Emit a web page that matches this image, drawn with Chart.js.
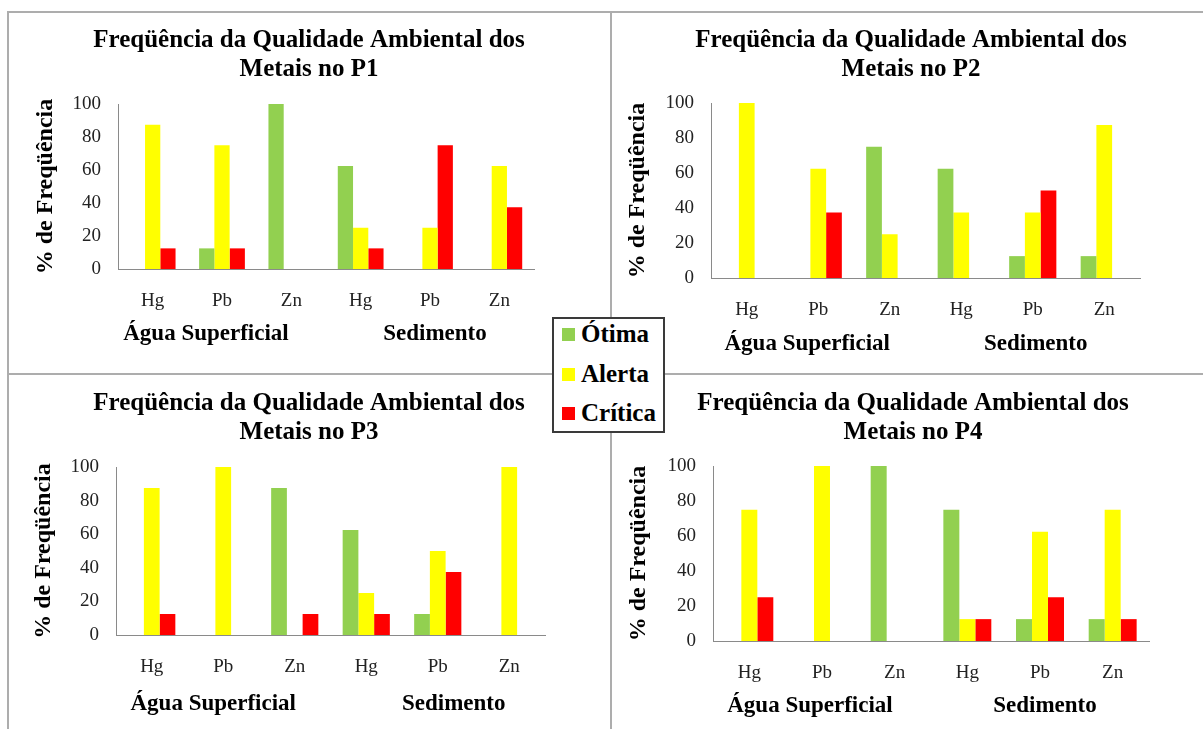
<!DOCTYPE html>
<html>
<head>
<meta charset="utf-8">
<script src="https://cdn.jsdelivr.net/npm/chart.js@4/dist/chart.umd.min.js"></script>
<style>
  body { margin: 0; width: 1203px; height: 729px; overflow: hidden; background: #fff; position: relative; }
  canvas { position: absolute; }
  .line { position: absolute; background: #adadad; }
  #legend { position: absolute; left: 552px; top: 317px; width: 109px; height: 112px; border: 2px solid #3a3a3a; background: #fff;
    font: bold 25px "Liberation Serif", serif; color: #000; }
  #legend div { position: absolute; left: 8px; height: 30px; line-height: 30px; white-space: nowrap; }
  #legend span { display: inline-block; width: 13px; height: 13px; margin-right: 6px; vertical-align: 1px; }
</style>
</head>
<body>
<div class="line" style="left:7px;top:11px;width:1200px;height:2px"></div>
<div class="line" style="left:7px;top:11px;width:2px;height:720px"></div>
<div class="line" style="left:610px;top:11px;width:2px;height:720px"></div>
<div class="line" style="left:7px;top:373px;width:1200px;height:2px"></div>
<canvas id="p1" width="602" height="362" style="left:8px;top:12px"></canvas>
<canvas id="p2" width="600" height="362" style="left:611px;top:12px"></canvas>
<canvas id="p3" width="602" height="355" style="left:8px;top:374px"></canvas>
<canvas id="p4" width="604" height="355" style="left:611px;top:374px"></canvas>
<div id="legend"></div>
<script>
// dados (% de frequência, 8 amostras)
const categories = ['Hg', 'Pb', 'Zn', 'Hg', 'Pb', 'Zn'];
const groups = ['Água Superficial', 'Sedimento'];
const seriesNames = ['Ótima', 'Alerta', 'Crítica'];
const seriesColors = ['#92d050', '#ffff00', '#ff0000'];
const yTicks = [0, 20, 40, 60, 80, 100];

const p1Otima = [0, 12.5, 100, 62.5, 0, 0];
const p1Alerta = [87.5, 75, 0, 25, 25, 62.5];
const p1Critica = [12.5, 12.5, 0, 12.5, 75, 37.5];

const p2Otima = [0, 0, 75, 62.5, 12.5, 12.5];
const p2Alerta = [100, 62.5, 25, 37.5, 37.5, 87.5];
const p2Critica = [0, 37.5, 0, 0, 50, 0];

const p3Otima = [0, 0, 87.5, 62.5, 12.5, 0];
const p3Alerta = [87.5, 100, 0, 25, 50, 100];
const p3Critica = [12.5, 0, 12.5, 12.5, 37.5, 0];

const p4Otima = [0, 0, 100, 75, 12.5, 12.5];
const p4Alerta = [75, 100, 0, 12.5, 62.5, 75];
const p4Critica = [25, 0, 0, 12.5, 25, 12.5];

const titleLine1 = 'Freqüência da Qualidade Ambiental dos';
const yTitle = '% de Freqüência';

const panels = [
  { id: 'p1', name: 'P1', series: [p1Otima, p1Alerta, p1Critica], yWidth: 110, rightGap: 76, titlePad: { top: 14.5, bottom: 19.5 }, yTitlePad: 24, xHeight: 105, groupDy: 65, groupOffsets: [-16, 5] },
  { id: 'p2', name: 'P2', series: [p2Otima, p2Alerta, p2Critica], yWidth: 100, rightGap: 71, titlePad: { top: 14.5, bottom: 18.5 }, yTitlePad: 13, xHeight: 96, groupDy: 66, groupOffsets: [-11, 3] },
  { id: 'p3', name: 'P3', series: [p3Otima, p3Alerta, p3Critica], yWidth: 108, rightGap: 65, titlePad: { top: 15.5, bottom: 19.5 }, yTitlePad: 22, xHeight: 94, groupDy: 69, groupOffsets: [-10, 16] },
  { id: 'p4', name: 'P4', series: [p4Otima, p4Alerta, p4Critica], yWidth: 102, rightGap: 66, titlePad: { top: 15.5, bottom: 18.5 }, yTitlePad: 14, xHeight: 88, groupDy: 65, groupOffsets: [-12, 5] }
];

const serif = '"Liberation Serif", "Times New Roman", serif';

// rótulos "Água Superficial" / "Sedimento" sob cada grupo de três metais
const groupLabels = {
  id: 'groupLabels',
  afterDraw(chart, args, opts) {
    const x = chart.scales.x;
    const ctx = chart.ctx;
    ctx.save();
    ctx.font = 'bold 23px ' + serif;
    ctx.fillStyle = '#000';
    ctx.textAlign = 'center';
    ctx.textBaseline = 'middle';
    groups.forEach((g, i) => {
      const cx = x.getPixelForValue(i * 3 + 1) + opts.offsets[i];
      ctx.fillText(g, cx, chart.chartArea.bottom + opts.dy);
    });
    ctx.restore();
  }
};

function makeChart(p) {
  const ctx = document.getElementById(p.id).getContext('2d');
  return new Chart(ctx, {
    type: 'bar',
    data: {
      labels: categories,
      datasets: p.series.map((vals, i) => ({
        label: seriesNames[i],
        data: vals,
        backgroundColor: seriesColors[i],
        borderWidth: 0,
        categoryPercentage: 0.66,
        barPercentage: 1
      }))
    },
    options: {
      responsive: false,
      animation: false,
      devicePixelRatio: 1,
      layout: { padding: 0 },
      plugins: {
        legend: { display: false },
        tooltip: { enabled: false },
        title: {
          display: true,
          text: [titleLine1, 'Metais no ' + p.name],
          color: '#000',
          font: { family: serif, size: 25, weight: 'bold', lineHeight: 29 / 25 },
          padding: p.titlePad
        },
        groupLabels: { offsets: p.groupOffsets, dy: p.groupDy }
      },
      scales: {
        x: {
          grid: { display: false, drawTicks: false },
          border: { display: true, color: '#8a8a8a', width: 1 },
          ticks: { color: '#222', font: { family: serif, size: 19 }, padding: 21, maxRotation: 0 },
          afterFit: s => { s.height = p.xHeight; }
        },
        y: {
          min: 0,
          max: 100,
          grid: { display: false, drawTicks: false },
          border: { display: true, color: '#8a8a8a', width: 1 },
          afterBuildTicks: s => { s.ticks = yTicks.map(v => ({ value: v })); },
          ticks: { color: '#222', font: { family: serif, size: 19 }, padding: 17 },
          title: {
            display: true,
            text: yTitle,
            color: '#000',
            font: { family: serif, size: 24, weight: 'bold' },
            padding: { top: p.yTitlePad - 1, bottom: 0 }
          },
          afterFit: s => { s.width = p.yWidth; }
        },
        // eixo vazio só para reservar o espaço à direita (onde fica a legenda no Excel)
        yr: {
          position: 'right',
          display: true,
          grid: { display: false, drawTicks: false },
          border: { display: false },
          ticks: { display: false },
          afterFit: s => { s.width = p.rightGap; }
        }
      }
    },
    plugins: [groupLabels]
  });
}

panels.forEach(makeChart);

// legenda comum no centro
const legend = document.getElementById('legend');
seriesNames.forEach((name, i) => {
  const row = document.createElement('div');
  row.style.top = (i * 39.5) + 'px';
  row.innerHTML = '<span style="background:' + seriesColors[i] + '"></span>' + name;
  legend.appendChild(row);
});
</script>
</body>
</html>
